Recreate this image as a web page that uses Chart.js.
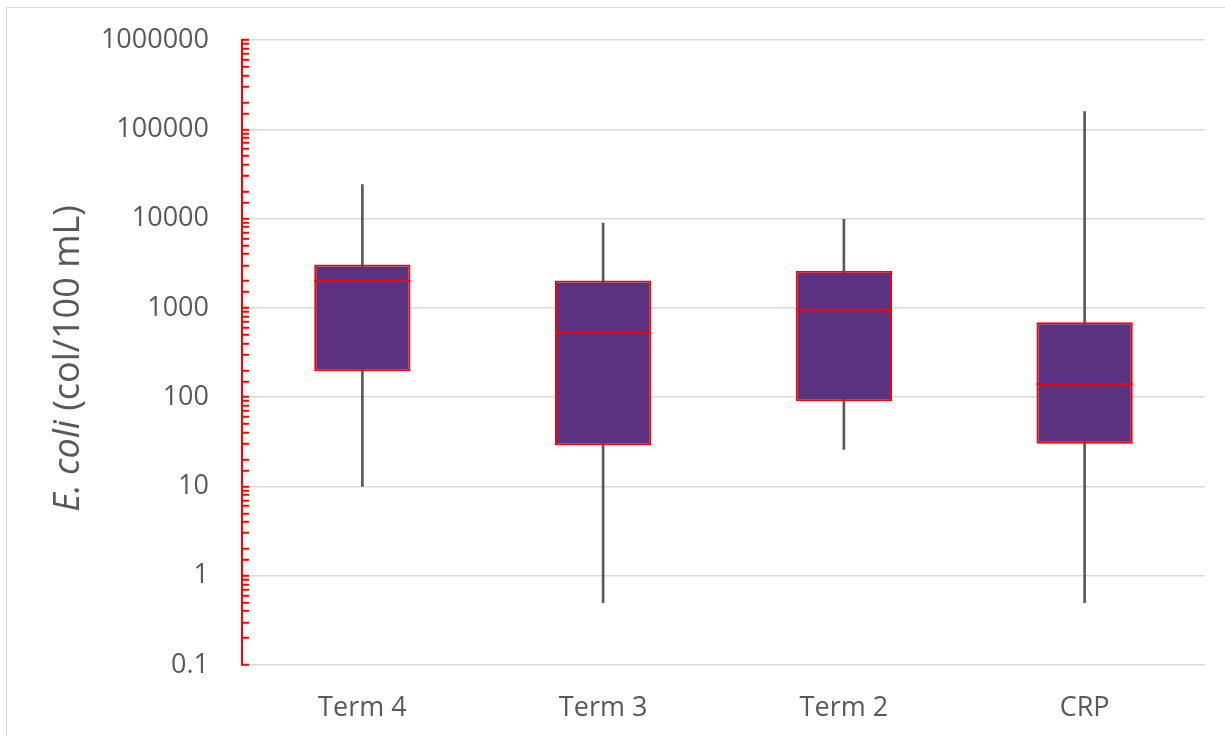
<!DOCTYPE html>
<html>
<head>
<meta charset="utf-8">
<script src="https://cdn.jsdelivr.net/npm/chart.js@4"></script>
<style>
  html, body { margin: 0; padding: 0; background: #fff; }
  #wrap { position: absolute; left: 0; top: 0; width: 1225px; height: 736px; }
  #frame { position: absolute; left: 6px; top: 7px; width: 1230px; height: 740px; border: 1px solid #d9d9d9; box-sizing: border-box; }
</style>
</head>
<body>
<div id="frame"></div>
<div id="wrap"><canvas id="boxChart"></canvas></div>
<script>
const categories = ['Term 4', 'Term 3', 'Term 2', 'CRP'];
const whiskerMin = [10, 0.5, 26, 0.5];
const q1 = [195, 29, 90, 30];
const median = [2000, 525, 950, 140];
const q3 = [3050, 2030, 2600, 690];
const whiskerMax = [24000, 8900, 9800, 158000];
const yTickLabels = ['0.1', '1', '10', '100', '1000', '10000', '100000', '1000000'];

const FONT = "'Open Sans', sans-serif";
const TEXT = '#595959';

function decadeIndex(v) {
    const l = Math.log10(v);
    const r = Math.round(l);
    return Math.abs(l - r) < 1e-6 ? r + 1 : -1;
}

// Título del eje Y con parte en cursiva
const yTitlePlugin = {
    id: 'yTitle',
    afterDraw(chart) {
        const c = chart.ctx;
        const y = chart.scales.y;
        const cy = (y.top + y.bottom) / 2 + 6;
        c.save();
        c.translate(69, cy);
        c.rotate(-Math.PI / 2);
        c.fillStyle = TEXT;
        c.textBaseline = 'middle';
        const p1 = 'E. coli', p2 = ' (col/100 mL)';
        c.font = 'italic 36px ' + FONT;
        const w1 = c.measureText(p1).width;
        c.font = '36px ' + FONT;
        const w2 = c.measureText(p2).width;
        let x = -(w1 + w2) / 2;
        c.font = 'italic 36px ' + FONT;
        c.fillText(p1, x, 0);
        c.font = '36px ' + FONT;
        c.fillText(p2, x + w1, 0);
        c.restore();
    }
};

const ctx = document.getElementById('boxChart').getContext('2d');
const boxChart = new Chart(ctx, {
    data: {
        labels: categories,
        datasets: [
            {
                type: 'line',
                label: 'Median',
                data: median,
                showLine: false,
                pointStyle: 'line',
                pointRadius: 48,
                pointHoverRadius: 48,
                pointBorderColor: '#ff0000',
                pointBorderWidth: 2,
                order: 0
            },
            {
                type: 'bar',
                label: 'Box',
                data: q1.map((v, i) => [v, q3[i]]),
                backgroundColor: '#5b3280',
                borderColor: '#ff0000',
                borderWidth: 2,
                borderSkipped: false,
                barPercentage: 0.4,
                categoryPercentage: 1,
                grouped: false,
                order: 1
            },
            {
                type: 'bar',
                label: 'Whisker',
                data: whiskerMin.map((v, i) => [v, whiskerMax[i]]),
                backgroundColor: '#595959',
                borderWidth: 0,
                barThickness: 2,
                grouped: false,
                order: 2
            }
        ]
    },
    options: {
        responsive: true,
        maintainAspectRatio: false,
        animation: false,
        layout: {
            autoPadding: false,
            padding: { left: 0, top: 40, right: 20, bottom: 0 }
        },
        plugins: {
            legend: { display: false },
            tooltip: { enabled: false }
        },
        scales: {
            x: {
                grid: { display: false },
                border: { display: false },
                ticks: {
                    color: TEXT,
                    font: { family: FONT, size: 27 },
                    padding: 19
                },
                afterFit(scale) {
                    scale.height = 71;
                    scale.paddingLeft = 0;
                    scale.paddingRight = 0;
                }
            },
            y: {
                type: 'logarithmic',
                min: 0.1,
                max: 1000000,
                border: { color: '#ff0000', width: 2 },
                grid: {
                    color: c => decadeIndex(c.tick.value) >= 0 ? '#d9d9d9' : 'rgba(0,0,0,0)',
                    lineWidth: 1.5,
                    tickColor: '#ff0000',
                    tickLength: -7,
                    tickWidth: 2
                },
                ticks: {
                    autoSkip: false,
                    color: TEXT,
                    font: { family: FONT, size: 27 },
                    padding: 40,
                    callback: v => {
                        const i = decadeIndex(v);
                        return i >= 0 ? yTickLabels[i] : '';
                    }
                },
                afterFit(scale) {
                    scale.width = 242;
                    scale.paddingTop = 0;
                    scale.paddingBottom = 0;
                }
            }
        }
    },
    plugins: [yTitlePlugin]
});
</script>
</body>
</html>
